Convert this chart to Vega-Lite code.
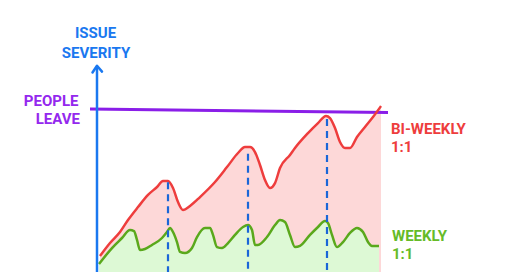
{
  "$schema": "https://vega.github.io/schema/vega-lite/v6.json",
  "width": 300,
  "height": 272,
  "autosize": {"type": "none"},
  "padding": {"left": 90, "top": 0, "right": 130, "bottom": 0},
  "background": "white",
  "config": {"view": {"stroke": null}},
  "datasets": {
    "biweekly": [
      {"x": 0.3, "y": 9.9}, {"x": 1.3, "y": 17.9}, {"x": 2.3, "y": 24.7}, {"x": 3.1, "y": 32.1},
      {"x": 4.1, "y": 40.1}, {"x": 5.1, "y": 47.6}, {"x": 6.0, "y": 52.5}, {"x": 6.6, "y": 56.2},
      {"x": 7.1, "y": 56.2}, {"x": 7.6, "y": 51.9}, {"x": 8.1, "y": 43.2}, {"x": 8.6, "y": 38.3},
      {"x": 9.3, "y": 40.8}, {"x": 10.3, "y": 46.3}, {"x": 11.8, "y": 55.6}, {"x": 13.0, "y": 64.8},
      {"x": 14.1, "y": 73.5}, {"x": 14.8, "y": 77.2}, {"x": 15.3, "y": 77.2}, {"x": 15.8, "y": 74.1},
      {"x": 16.3, "y": 66.1}, {"x": 16.8, "y": 56.8}, {"x": 17.3, "y": 51.9}, {"x": 17.8, "y": 54.9},
      {"x": 18.3, "y": 64.2}, {"x": 19.3, "y": 72.3}, {"x": 19.8, "y": 76.6}, {"x": 21.1, "y": 85.8},
      {"x": 22.1, "y": 92.0}, {"x": 22.9, "y": 96.4}, {"x": 23.3, "y": 95.1}, {"x": 23.8, "y": 88.9},
      {"x": 24.3, "y": 80.3}, {"x": 24.8, "y": 76.6}, {"x": 25.3, "y": 76.6}, {"x": 26.0, "y": 83.4},
      {"x": 26.8, "y": 89.6}, {"x": 27.6, "y": 95.7}, {"x": 28.4, "y": 102.5}
    ],
    "weekly": [
      {"x": 0.2, "y": 4.9}, {"x": 1.5, "y": 14.8}, {"x": 2.5, "y": 21.0}, {"x": 3.3, "y": 25.9},
      {"x": 3.7, "y": 25.3}, {"x": 4.0, "y": 19.8}, {"x": 4.3, "y": 13.6}, {"x": 4.8, "y": 14.2},
      {"x": 5.5, "y": 16.7}, {"x": 6.5, "y": 21.0}, {"x": 7.0, "y": 24.7}, {"x": 7.3, "y": 27.2},
      {"x": 7.6, "y": 24.7}, {"x": 8.0, "y": 18.5}, {"x": 8.3, "y": 12.4}, {"x": 8.8, "y": 11.7},
      {"x": 9.5, "y": 14.8}, {"x": 10.0, "y": 21.6}, {"x": 10.8, "y": 27.2}, {"x": 11.3, "y": 27.2},
      {"x": 11.6, "y": 22.9}, {"x": 12.0, "y": 15.4}, {"x": 12.5, "y": 14.8}, {"x": 13.1, "y": 17.9},
      {"x": 13.8, "y": 22.9}, {"x": 14.6, "y": 27.8}, {"x": 15.1, "y": 29.0}, {"x": 15.5, "y": 25.9},
      {"x": 15.8, "y": 16.7}, {"x": 16.1, "y": 16.7}, {"x": 17.0, "y": 21.6}, {"x": 17.8, "y": 29.0},
      {"x": 18.3, "y": 32.1}, {"x": 18.8, "y": 30.9}, {"x": 19.3, "y": 22.9}, {"x": 19.8, "y": 15.4},
      {"x": 20.3, "y": 16.1}, {"x": 21.3, "y": 22.9}, {"x": 22.1, "y": 27.8}, {"x": 22.8, "y": 31.5},
      {"x": 23.1, "y": 30.3}, {"x": 23.5, "y": 22.9}, {"x": 24.0, "y": 15.4}, {"x": 24.6, "y": 18.5},
      {"x": 25.3, "y": 24.1}, {"x": 26.0, "y": 27.2}, {"x": 26.6, "y": 24.7}, {"x": 27.1, "y": 18.5},
      {"x": 27.5, "y": 16.1}, {"x": 28.2, "y": 16.1}
    ]
  },
  "encoding": {
    "x": {"field": "x", "type": "quantitative", "scale": {"domain": [-0.7, 29.3], "nice": false, "zero": false}, "axis": null},
    "y": {"field": "y", "type": "quantitative", "scale": {"domain": [0, 168], "nice": false, "zero": false}, "axis": null}
  },
  "layer": [
    {
      "data": {"name": "biweekly"},
      "mark": {"type": "area", "color": "#fdd8d8", "interpolate": "monotone"}
    },
    {
      "data": {"name": "weekly"},
      "mark": {"type": "area", "color": "#ddf9d5", "interpolate": "monotone"}
    },
    {
      "data": {"values": [{"x": -0.7, "y": 100.7}, {"x": 29.1, "y": 98.5}]},
      "mark": {"type": "line", "color": "#8a1ee8", "strokeWidth": 3}
    },
    {
      "data": {"name": "biweekly"},
      "mark": {"type": "line", "color": "#ee3d3d", "strokeWidth": 2.5, "interpolate": "monotone"}
    },
    {
      "data": {"name": "weekly"},
      "mark": {"type": "line", "color": "#5aa81c", "strokeWidth": 2.5, "interpolate": "monotone"}
    },
    {
      "data": {"values": [{"x": 7.1, "y": 55.5, "y0": 0}, {"x": 15.1, "y": 73.0, "y0": 0}, {"x": 23.0, "y": 94.5, "y0": 0}]},
      "mark": {"type": "rule", "color": "#1a66d8", "strokeWidth": 2.2, "strokeDash": [7, 5]},
      "encoding": {"y2": {"field": "y0"}}
    },
    {
      "data": {"values": [{"x": 0, "y": 126.6, "y0": 0}]},
      "mark": {"type": "rule", "color": "#1a78f0", "strokeWidth": 2.5},
      "encoding": {"y2": {"field": "y0"}}
    },
    {
      "data": {"values": [{"x": -0.45, "y": 123.2}, {"x": 0, "y": 127.4}, {"x": 0.5, "y": 123.8}]},
      "mark": {"type": "line", "color": "#1a78f0", "strokeWidth": 2.5, "strokeCap": "round", "strokeJoin": "round"}
    },
    {
      "data": {"values": [{"label": "ISSUE", "x": -0.15, "y": 144.5}, {"label": "SEVERITY", "x": -0.1, "y": 132.2}]},
      "mark": {"type": "text", "color": "#1a78f0", "font": "Roboto", "fontWeight": "bold", "fontSize": 15, "align": "center", "baseline": "alphabetic"},
      "encoding": {"text": {"field": "label"}}
    },
    {
      "data": {"values": [{"label": "PEOPLE", "x": -1.85, "y": 102.5}, {"label": "LEAVE", "x": -1.7, "y": 91.4}]},
      "mark": {"type": "text", "color": "#9428ee", "font": "Roboto", "fontWeight": "bold", "fontSize": 15, "align": "right", "baseline": "alphabetic"},
      "encoding": {"text": {"field": "label"}}
    },
    {
      "data": {"values": [{"label": "BI-WEEKLY", "x": 29.4, "y": 85.2}, {"label": "1:1", "x": 29.4, "y": 74.1}]},
      "mark": {"type": "text", "color": "#ee3d3d", "font": "Roboto", "fontWeight": "bold", "fontSize": 15, "align": "left", "baseline": "alphabetic"},
      "encoding": {"text": {"field": "label"}}
    },
    {
      "data": {"values": [{"label": "WEEKLY", "x": 29.5, "y": 19.4}, {"label": "1:1", "x": 29.5, "y": 8.3}]},
      "mark": {"type": "text", "color": "#66bb28", "font": "Roboto", "fontWeight": "bold", "fontSize": 15, "align": "left", "baseline": "alphabetic"},
      "encoding": {"text": {"field": "label"}}
    }
  ]
}
